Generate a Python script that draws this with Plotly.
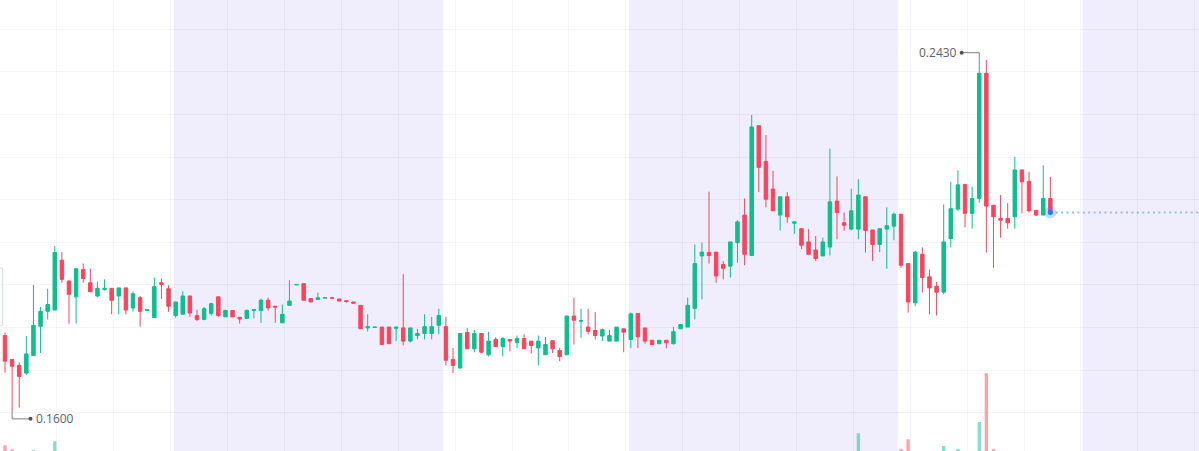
import plotly.graph_objects as go

# ---------------- data ----------------
idx = list(range(-1, 148))

opens = [0.1788,
 0.1781, 0.1725, 0.1711, 0.1693, 0.1734, 0.1803, 0.1838, 0.1841, 0.1958, 0.1909,
 0.1872, 0.1936, 0.1905, 0.1874, 0.1889, 0.1892, 0.1874, 0.1893, 0.1846, 0.1870,
 0.1840, 0.1823, 0.1905, 0.1891, 0.1828, 0.1831, 0.1874, 0.1828, 0.1819, 0.1833,
 0.1872, 0.1825, 0.1840, 0.1824, 0.1821, 0.1840, 0.1840, 0.1864, 0.1850, 0.1811,
 0.1852, 0.1900, 0.1903, 0.1868, 0.1866, 0.1869, 0.1870, 0.1867, 0.1863, 0.1860,
 0.1852, 0.1799, 0.1800, 0.1801, 0.1801, 0.1798, 0.1799, 0.1768, 0.1781, 0.1786,
 0.1786, 0.1805, 0.1802, 0.1725, 0.1705, 0.1788, 0.1750, 0.1786, 0.1736, 0.1772,
 0.1755, 0.1772, 0.1765, 0.1774, 0.1768, 0.1752, 0.1736, 0.1769, 0.1746, 0.1736,
 0.1827, 0.1815, 0.1801, 0.1793, 0.1780, 0.1768, 0.1768, 0.1797, 0.1772, 0.1833,
 0.1799, 0.1770, 0.1762, 0.1770, 0.1762, 0.1797, 0.1801, 0.1845, 0.1968, 0.1976,
 0.1977, 0.1948, 0.1944, 0.1999, 0.2064, 0.1969, 0.2274, 0.2190, 0.2125, 0.2064,
 0.2107, 0.2045, 0.2032, 0.2001, 0.1982, 0.1968, 0.1989, 0.2097, 0.2046, 0.2031,
 0.2031, 0.2107, 0.2029, 0.1995, 0.2031, 0.2038, 0.2066, 0.1950, 0.1858, 0.1972,
 0.1919, 0.1897, 0.1883, 0.2009, 0.2078, 0.2136, 0.2068, 0.2103, 0.2397, 0.2087,
 0.2056, 0.2056, 0.2060, 0.2170, 0.2143, 0.2075, 0.2064, 0.2103]

highs = [0.1792,
 0.1788, 0.1725, 0.1718, 0.1780, 0.1900, 0.1848, 0.1891, 0.1991, 0.1977, 0.1911,
 0.1938, 0.1950, 0.1938, 0.1908, 0.1913, 0.1892, 0.1893, 0.1893, 0.1885, 0.1874,
 0.1842, 0.1917, 0.1915, 0.1899, 0.1860, 0.1885, 0.1874, 0.1842, 0.1848, 0.1858,
 0.1872, 0.1842, 0.1840, 0.1824, 0.1842, 0.1842, 0.1868, 0.1870, 0.1850, 0.1854,
 0.1911, 0.1901, 0.1903, 0.1868, 0.1882, 0.1870, 0.1872, 0.1867, 0.1863, 0.1860,
 0.1852, 0.1831, 0.1801, 0.1801, 0.1801, 0.1801, 0.1925, 0.1799, 0.1797, 0.1831,
 0.1825, 0.1844, 0.1825, 0.1752, 0.1786, 0.1799, 0.1794, 0.1786, 0.1790, 0.1777,
 0.1778, 0.1772, 0.1781, 0.1784, 0.1768, 0.1781, 0.1778, 0.1769, 0.1752, 0.1827,
 0.1870, 0.1844, 0.1844, 0.1836, 0.1798, 0.1794, 0.1801, 0.1797, 0.1835, 0.1833,
 0.1799, 0.1770, 0.1770, 0.1770, 0.1801, 0.1807, 0.1870, 0.1995, 0.1999, 0.2119,
 0.1977, 0.1956, 0.2001, 0.2052, 0.2103, 0.2299, 0.2274, 0.2252, 0.2168, 0.2107,
 0.2118, 0.2048, 0.2032, 0.2031, 0.2015, 0.2011, 0.2220, 0.2155, 0.2070, 0.2126,
 0.2148, 0.2107, 0.2029, 0.2032, 0.2082, 0.2070, 0.2066, 0.1950, 0.1980, 0.1988,
 0.1936, 0.1907, 0.2089, 0.2142, 0.2169, 0.2136, 0.2131, 0.2430, 0.2428, 0.2087,
 0.2111, 0.2092, 0.2201, 0.2170, 0.2166, 0.2075, 0.2181, 0.2154]

lows = [0.1786,
 0.1694, 0.1600, 0.1612, 0.1688, 0.1734, 0.1740, 0.1819, 0.1841, 0.1905, 0.1809,
 0.1809, 0.1905, 0.1884, 0.1871, 0.1887, 0.1831, 0.1831, 0.1831, 0.1837, 0.1802,
 0.1840, 0.1823, 0.1867, 0.1837, 0.1823, 0.1831, 0.1825, 0.1815, 0.1817, 0.1828,
 0.1825, 0.1825, 0.1825, 0.1809, 0.1821, 0.1821, 0.1811, 0.1840, 0.1811, 0.1811,
 0.1852, 0.1900, 0.1864, 0.1860, 0.1866, 0.1869, 0.1868, 0.1862, 0.1858, 0.1856,
 0.1797, 0.1791, 0.1800, 0.1760, 0.1762, 0.1768, 0.1758, 0.1765, 0.1772, 0.1772,
 0.1772, 0.1784, 0.1711, 0.1693, 0.1703, 0.1750, 0.1742, 0.1740, 0.1732, 0.1755,
 0.1732, 0.1744, 0.1752, 0.1750, 0.1739, 0.1711, 0.1736, 0.1740, 0.1721, 0.1736,
 0.1760, 0.1776, 0.1784, 0.1772, 0.1768, 0.1768, 0.1768, 0.1742, 0.1752, 0.1752,
 0.1762, 0.1760, 0.1762, 0.1751, 0.1760, 0.1797, 0.1801, 0.1819, 0.1866, 0.1950,
 0.1905, 0.1913, 0.1917, 0.1952, 0.1946, 0.1969, 0.2118, 0.2082, 0.2074, 0.2028,
 0.2046, 0.2020, 0.1984, 0.1972, 0.1956, 0.1968, 0.1969, 0.2007, 0.2027, 0.2028,
 0.2007, 0.1976, 0.1956, 0.1977, 0.1938, 0.2005, 0.1940, 0.1835, 0.1850, 0.1882,
 0.1831, 0.1828, 0.1878, 0.1988, 0.2074, 0.2035, 0.2032, 0.2093, 0.1976, 0.1940,
 0.2011, 0.2032, 0.2032, 0.2068, 0.2070, 0.2062, 0.2064, 0.2070]

closes = [0.1790,
 0.1721, 0.1709, 0.1685, 0.1738, 0.1805, 0.1838, 0.1854, 0.1976, 0.1913, 0.1878,
 0.1938, 0.1915, 0.1884, 0.1892, 0.1892, 0.1864, 0.1893, 0.1841, 0.1879, 0.1838,
 0.1842, 0.1896, 0.1901, 0.1850, 0.1860, 0.1874, 0.1834, 0.1819, 0.1844, 0.1856,
 0.1828, 0.1840, 0.1825, 0.1820, 0.1840, 0.1842, 0.1864, 0.1846, 0.1848, 0.1831,
 0.1862, 0.1901, 0.1864, 0.1860, 0.1870, 0.1870, 0.1869, 0.1862, 0.1861, 0.1857,
 0.1797, 0.1802, 0.1801, 0.1760, 0.1762, 0.1801, 0.1768, 0.1799, 0.1786, 0.1802,
 0.1802, 0.1828, 0.1723, 0.1711, 0.1786, 0.1750, 0.1786, 0.1742, 0.1768, 0.1755,
 0.1774, 0.1768, 0.1774, 0.1750, 0.1758, 0.1768, 0.1760, 0.1750, 0.1732, 0.1827,
 0.1817, 0.1816, 0.1791, 0.1781, 0.1795, 0.1781, 0.1801, 0.1789, 0.1832, 0.1778,
 0.1768, 0.1760, 0.1770, 0.1764, 0.1790, 0.1807, 0.1852, 0.1950, 0.1977, 0.1969,
 0.1921, 0.1939, 0.2001, 0.2048, 0.1972, 0.2271, 0.2176, 0.2101, 0.2074, 0.2107,
 0.2060, 0.2048, 0.1993, 0.1972, 0.1962, 0.2001, 0.2095, 0.2070, 0.2040, 0.2074,
 0.2111, 0.2028, 0.1995, 0.2032, 0.2039, 0.2066, 0.1946, 0.1860, 0.1977, 0.1917,
 0.1893, 0.1883, 0.2001, 0.2079, 0.2135, 0.2068, 0.2103, 0.2397, 0.2085, 0.2060,
 0.2052, 0.2046, 0.2170, 0.2142, 0.2074, 0.2064, 0.2103, 0.2070]

# volume (arbitrary units); most candles have negligible volume
volumes = [2600,
 570, 170, 0, 0, 100, 0, 0, 970, 0, 0,
 0, 0, 0, 0, 0, 0, 0, 0, 0, 0,
 0, 0, 0, 0, 0, 0, 0, 0, 0, 0,
 0, 0, 0, 0, 0, 0, 0, 0, 0, 0,
 0, 0, 0, 0, 0, 0, 0, 0, 0, 0,
 0, 0, 0, 0, 0, 0, 0, 0, 0, 0,
 0, 0, 0, 0, 0, 0, 0, 0, 0, 0,
 0, 0, 0, 0, 0, 0, 0, 0, 0, 0,
 0, 0, 0, 0, 0, 0, 0, 0, 0, 0,
 0, 0, 0, 0, 0, 0, 0, 0, 0, 0,
 0, 0, 0, 0, 0, 0, 0, 0, 0, 0,
 0, 0, 0, 0, 0, 0, 0, 0, 0, 0,
 1770, 0, 0, 0, 0, 0, 200, 1170, 0, 0,
 0, 0, 500, 0, 200, 0, 0, 2900, 7770, 200,
 0, 0, 0, 0, 0, 0, 0, 0]

# shaded session bands (in candle-index units)
band_starts = [23.74, 87.71, 151.54]
band_ends = [61.62, 125.54, 200.0]

# ---------------- style ----------------
UP = "#0ebf8b"
DOWN = "#f6465d"
UP_VOL = "rgba(14,191,139,0.5)"
DOWN_VOL = "rgba(246,70,93,0.5)"
BAND = "#f0edfc"
GRID = "rgba(0,0,0,0.04)"
LABEL = "#5c616c"
CONN = "#7a7f89"

XR = [-0.703, 167.9]
YR = [0.1510, 0.2569]

fig = go.Figure()

vol_colors = [UP_VOL if c >= o else DOWN_VOL for o, c in zip(opens, closes)]
fig.add_trace(go.Bar(x=idx, y=volumes, yaxis="y2", marker=dict(color=vol_colors, line=dict(width=0)),
                     width=0.47, hoverinfo="skip", showlegend=False))

fig.add_trace(go.Candlestick(
    x=idx, open=opens, high=highs, low=lows, close=closes,
    increasing=dict(line=dict(color=UP, width=1), fillcolor=UP),
    decreasing=dict(line=dict(color=DOWN, width=1), fillcolor=DOWN),
    whiskerwidth=0, showlegend=False))

# last price marker
last_x = idx[-1]
last_c = closes[-1]
fig.add_trace(go.Scatter(x=[last_x], y=[last_c], mode="markers",
                         marker=dict(size=12, color="rgba(46,125,246,0.28)"), showlegend=False, hoverinfo="skip"))
fig.add_trace(go.Scatter(x=[last_x], y=[last_c], mode="markers",
                         marker=dict(size=5, color="#2a78f0"), showlegend=False, hoverinfo="skip"))

shapes = []
for s, e in zip(band_starts, band_ends):
    shapes.append(dict(type="rect", xref="x", yref="paper", x0=s, x1=e, y0=0, y1=1,
                       fillcolor=BAND, line=dict(width=0), layer="below"))

# dotted last-price line
shapes.append(dict(type="line", xref="x", yref="y", x0=last_x, x1=XR[1], y0=last_c, y1=last_c,
                   line=dict(color="#96bdf5", width=2, dash="2px,3.4px"), layer="below"))

# max / min markers
hi = max(highs)
hi_i = idx[highs.index(hi)]
lo = min(lows)
lo_i = idx[lows.index(lo)]

def conn(anchor_x, anchor_y, dx, dy):
    out = []
    out.append(dict(type="line", xref="x", yref="y", xsizemode="pixel", ysizemode="pixel",
                    xanchor=anchor_x, yanchor=anchor_y, x0=0, x1=0, y0=0, y1=dy,
                    line=dict(color=CONN, width=1)))
    out.append(dict(type="line", xref="x", yref="y", xsizemode="pixel", ysizemode="pixel",
                    xanchor=anchor_x, yanchor=anchor_y, x0=0, x1=dx, y0=dy, y1=dy,
                    line=dict(color=CONN, width=1)))
    out.append(dict(type="circle", xref="x", yref="y", xsizemode="pixel", ysizemode="pixel",
                    xanchor=anchor_x, yanchor=anchor_y, x0=dx - 2, x1=dx + 2, y0=dy - 2, y1=dy + 2,
                    fillcolor="#4d525b", line=dict(width=0)))
    return out

shapes += conn(hi_i, hi, -17.6, 6.5)
shapes += conn(lo_i, lo, 18.4, -6.2)

# partially visible label box at left edge
shapes.append(dict(type="rect", xref="paper", yref="paper", x0=-0.01, x1=0.0022,
                   y0=1 - 325.7 / 451, y1=1 - 268 / 451, line=dict(color="#d8dde4", width=1),
                   fillcolor="rgba(255,255,255,0)"))

annotations = [
    dict(x=hi_i, y=hi, xref="x", yref="y", text=f"{hi:.4f}", showarrow=False,
         xanchor="right", yanchor="middle", xshift=-20.5, yshift=6.5,
         font=dict(family="Open Sans", size=12, color=LABEL)),
    dict(x=lo_i, y=lo, xref="x", yref="y", text=f"{lo:.4f}", showarrow=False,
         xanchor="left", yanchor="middle", xshift=21.5, yshift=-6.2,
         font=dict(family="Open Sans", size=12, color=LABEL)),
]

fig.update_layout(
    width=1199, height=451,
    margin=dict(l=0, r=0, t=0, b=0),
    paper_bgcolor="white", plot_bgcolor="white",
    showlegend=False,
    shapes=shapes, annotations=annotations,
    xaxis=dict(range=XR, showticklabels=False, zeroline=False, showline=False,
               rangeslider=dict(visible=False), showgrid=True, gridcolor=GRID, gridwidth=1,
               tickmode="array", tickvals=[7.3 + 8 * k for k in range(-1, 23)], ticks=""),
    yaxis=dict(range=YR, showticklabels=False, zeroline=False, showline=False,
               showgrid=True, gridcolor=GRID, gridwidth=1, dtick=0.01, tick0=0, ticks=""),
    yaxis2=dict(range=[0, 45100], overlaying="y", visible=False, showgrid=False),
    hovermode=False,
)

fig.write_html("out.html", config={"displayModeBar": False},
               post_script="document.body.style.margin='0';document.body.style.padding='0';"
                           "document.documentElement.style.overflow='hidden';")
